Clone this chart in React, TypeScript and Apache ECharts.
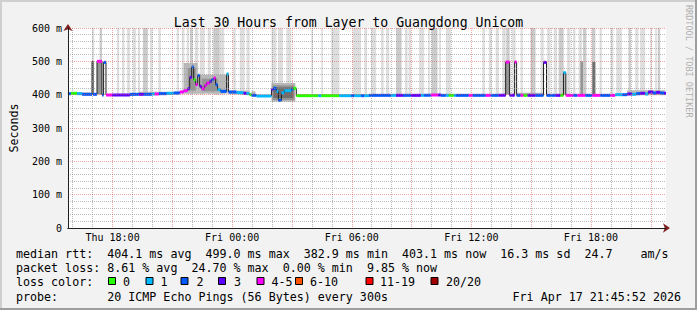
import React, { useEffect, useRef } from 'react';
import * as echarts from 'echarts';

// Time axis in hours counted from Thu 00:00 (Thu 15:45:52 -> Fri 21:45:52)
const START_H = 15 + 45 / 60 + 52 / 3600;
const END_H = START_H + 30;

const majorHours = [18, 21, 24, 27, 30, 33, 36, 39, 42, 45];
const labelHours = [18, 24, 30, 36, 42];
const minorHours = [16, 17, 19, 20, 22, 23, 25, 26, 28, 29, 31, 32, 34, 35, 37, 38, 40, 41, 43, 44];

// Median RTT (ms) per segment start time, and loss-colour bucket (-1 = none)
const medTime = [
  15.76, 15.91, 16.22, 16.47, 16.97, 17.02, 17.22, 17.47, 17.55, 17.67,
  17.97, 18.87, 19.32, 19.57, 19.97, 20.12, 20.32, 20.72, 21.07, 21.37,
  21.57, 21.77, 21.87, 21.97, 22.07, 22.17, 22.27, 22.37, 22.47, 22.62,
  22.72, 22.87, 22.97, 23.07, 23.17, 23.27, 23.42, 23.72, 23.82, 24.22,
  24.57, 24.72, 24.87, 24.97, 25.22, 25.97, 26.07, 26.22, 26.32, 26.47,
  26.62, 26.97, 27.07, 27.22, 28.32, 28.47, 29.37, 29.97, 30.12, 30.47,
  30.62, 30.87, 31.97, 32.22, 32.57, 32.97, 33.47, 33.62, 33.97, 34.32,
  34.47, 34.72, 34.87, 35.12, 35.22, 35.87, 36.07, 36.72, 36.97, 37.37,
  37.72, 37.92, 38.17, 38.27, 38.47, 38.62, 38.82, 39.22, 39.62, 39.77,
  40.22, 40.47, 40.62, 40.74, 41.12, 41.32, 41.72, 42.07, 42.47, 42.97,
  43.22, 43.57, 43.82, 44.07, 44.27, 44.47, 44.72, 44.87, 45.12, 45.27,
  45.47, 45.67,
];
const medValue = [
  403, 404, 403, 401, 500, 401, 500, 399, 497, 399,
  399, 401, 401, 401, 402, 402, 403, 404, 405, 408,
  412, 418, 452, 483, 445, 430, 458, 425, 418, 428,
  435, 440, 445, 450, 430, 415, 410, 462, 408, 406,
  404, 403, 400, 398, 396, 415, 419, 410, 383, 405,
  412, 416, 419, 397, 397, 397, 397, 397, 397, 397,
  397, 398, 398, 398, 398, 398, 398, 398, 399, 399,
  398, 398, 398, 398, 398, 398, 398, 398, 398, 398,
  498, 398, 498, 398, 398, 398, 398, 398, 497, 398,
  398, 398, 466, 398, 398, 398, 398, 398, 398, 398,
  400, 400, 402, 401, 403, 404, 402, 408, 405, 407,
  405, 404,
];
const medLoss = [
  2, 0, 1, 2, -1, 2, 4, 2, 2, 4,
  3, 2, 3, 2, 1, 4, 2, 1, 2, 4,
  4, 3, 3, 2, 0, 4, 2, 3, 4, 4,
  4, 3, 2, 4, 2, 1, 2, 1, 2, 1,
  3, 1, 0, 2, 1, 3, 2, 1, 2, 1,
  1, 2, 0, 0, 1, 0, 1, 2, 1, 2,
  1, 2, 1, 3, 2, 3, 1, 2, 4, 3,
  2, 1, 0, 1, 2, 4, 2, 4, 2, 3,
  4, 3, 4, 2, 4, 0, 3, 2, 3, 2,
  3, 0, 1, 4, 2, 4, 2, 4, 2, 4,
  1, 2, 3, 1, 2, 3, 1, 3, 2, 3,
  2, 3,
];

// Smoke reaching above the chart top: [start h, end h, density]
const tallSmoke = [
  [16.97, 17.08, 1], [17.35, 17.47, 2], [18.22, 18.33, 1], [18.47, 18.6, 1], [18.72, 18.88, 1],
  [19.02, 19.17, 1], [19.27, 19.38, 1], [19.52, 19.77, 2], [19.88, 20.0, 1], [20.3, 20.42, 1],
  [21.22, 21.33, 1], [21.47, 21.6, 1], [21.72, 21.83, 1], [21.88, 22.02, 2], [22.13, 22.3, 1],
  [22.38, 22.63, 1], [22.77, 22.93, 1], [23.05, 23.38, 2], [23.38, 23.6, 1], [24.05, 24.18, 1],
  [24.38, 24.63, 1], [24.72, 24.88, 1], [25.97, 26.22, 1], [26.3, 26.55, 1], [26.72, 26.97, 1],
  [27.97, 28.05, 1], [28.47, 28.55, 1], [28.97, 29.38, 1], [30.05, 30.47, 1], [30.63, 30.77, 1],
  [30.97, 31.22, 1], [31.47, 31.6, 1], [31.72, 31.88, 1], [32.22, 32.5, 2], [32.67, 32.8, 1],
  [32.85, 32.97, 1], [33.38, 33.63, 1], [33.83, 33.92, 1], [34.0, 34.3, 2], [34.38, 34.47, 1],
  [34.72, 34.97, 1], [36.55, 36.68, 1], [36.88, 37.02, 1], [37.22, 37.38, 1], [37.55, 37.72, 1],
  [37.75, 37.92, 2], [38.05, 38.22, 1], [38.47, 38.58, 1], [38.97, 39.22, 2], [39.47, 39.63, 1],
  [39.8, 39.97, 1], [40.13, 40.3, 1], [40.38, 40.63, 2], [40.8, 40.97, 1], [41.1, 41.22, 1],
  [41.38, 41.55, 1], [41.6, 41.77, 2], [42.05, 42.22, 2], [42.43, 42.55, 1], [42.97, 43.13, 1],
  [43.27, 43.55, 1], [43.88, 44.0, 2], [44.22, 44.38, 1], [44.47, 44.72, 1], [44.97, 45.05, 1],
  [45.22, 45.3, 1], [45.35, 45.47, 2],
];
const TALL_SMOKE_LOW = 400;
const TALL_SMOKE_HIGH = 600;

// Local smoke around the median: [start h, end h, low ms, high ms, density]
const localSmoke = [
  [16.0, 16.9, 401, 407, 3], [17.22, 17.47, 401, 499, 4], [19.3, 21.4, 401, 409, 3],
  [21.57, 22.27, 403, 495, 3], [21.77, 22.17, 412, 480, 4], [22.27, 23.72, 403, 460, 3],
  [22.47, 23.27, 410, 448, 4], [23.72, 23.82, 404, 462, 3], [23.82, 24.87, 401, 412, 3],
  [24.97, 25.17, 399, 410, 3], [25.97, 27.17, 379, 435, 3], [26.02, 27.12, 384, 428, 4],
  [26.07, 27.07, 390, 422, 5], [37.72, 37.92, 401, 498, 4], [38.3, 39.6, 399, 406, 3],
  [40.62, 40.74, 400, 466, 3], [41.47, 41.6, 401, 500, 4], [42.07, 42.22, 401, 498, 5],
  [43.82, 45.72, 398, 413, 3],
];

const lossLabels = ['0', '1', '2', '3', '4-5', '6-10', '11-19', '20/20'];
const lossColors = ['#26ff00', '#00b8ff', '#0059ff', '#5e00ff', '#ff00ff', '#ff5500', '#ff0000', '#a00000'];

const statsRtt = 'median rtt:  404.1 ms avg  499.0 ms max  382.9 ms min  403.1 ms now  16.3 ms sd  24.7    am/s';
const statsLoss = 'packet loss: 8.61 % avg  24.70 % max  0.00 % min  9.85 % now';
const probeText = 'probe:       20 ICMP Echo Pings (56 Bytes) every 300s';
const dateText = 'Fri Apr 17 21:45:52 2026';

const FONT = '"DejaVu Sans Mono", monospace';
const smokeGrey = ['#ffffff', '#dedede', '#cbcbcb', '#b8b8b8', '#959595', '#6e6e6e'];
const MAJOR = 'rgba(222,79,79,0.5)';
const MINOR = 'rgba(143,143,143,0.6)';

const fmtHour = (v: number) => {
  const d = v >= 24 ? 'Fri' : 'Thu';
  const hh = Math.round(v % 24);
  return `${d} ${String(hh).padStart(2, '0')}:00`;
};

function rectItem(api: any, t0: number, t1: number, lo: number, hi: number, fill: string) {
  const p0 = api.coord([t0, hi]);
  const p1 = api.coord([t1, lo]);
  return {
    type: 'rect',
    shape: { x: p0[0], y: p0[1], width: Math.max(1, p1[0] - p0[0]), height: p1[1] - p0[1] },
    style: { fill },
  };
}

function buildOption() {
  const medSegs = medTime.map((t, i) => [t, i + 1 < medTime.length ? medTime[i + 1] : END_H, medValue[i], medLoss[i]]);
  const medLine = medTime.map((t, i) => [t, medValue[i]]);
  medLine.push([END_H, medValue[medValue.length - 1]]);
  const tallData = tallSmoke.map((b) => [b[0], b[1], TALL_SMOKE_LOW, TALL_SMOKE_HIGH, b[2]]);

  const legendY = [253.5, 268.3, 281.7, 296.5];
  const boxX = [108, 145.5, 180.5, 218, 256.5, 295, 365.5, 430.5];
  const boxLabelX = [123, 160.5, 196.5, 234, 271.5, 310, 380, 446];
  const graphics: any[] = [
    { type: 'rect', shape: { x: 0, y: 0, width: 697, height: 2 }, style: { fill: '#cfcfcf' } },
    { type: 'rect', shape: { x: 0, y: 0, width: 2, height: 310 }, style: { fill: '#cfcfcf' } },
    { type: 'rect', shape: { x: 0, y: 308, width: 697, height: 2 }, style: { fill: '#9e9e9e' } },
    { type: 'rect', shape: { x: 695, y: 0, width: 2, height: 310 }, style: { fill: '#9e9e9e' } },
    {
      type: 'text', x: 689, y: 5, rotation: -Math.PI / 2,
      style: { text: 'RRDTOOL / TOBI OETIKER', font: `8.5px ${FONT}`, fill: '#b0b0b0', textAlign: 'left', textVerticalAlign: 'middle' },
    },
    { type: 'text', x: 16, y: legendY[0], style: { text: statsRtt, font: `11.67px ${FONT}`, fill: '#000', textVerticalAlign: 'middle' } },
    { type: 'text', x: 16, y: legendY[1], style: { text: statsLoss, font: `11.67px ${FONT}`, fill: '#000', textVerticalAlign: 'middle' } },
    { type: 'text', x: 16, y: legendY[2], style: { text: 'loss color:', font: `11.67px ${FONT}`, fill: '#000', textVerticalAlign: 'middle' } },
    { type: 'text', x: 16, y: legendY[3], style: { text: probeText, font: `11.67px ${FONT}`, fill: '#000', textVerticalAlign: 'middle' } },
    { type: 'text', x: 681, y: legendY[3], style: { text: dateText, font: `11.67px ${FONT}`, fill: '#000', textAlign: 'right', textVerticalAlign: 'middle' } },
  ];
  lossLabels.forEach((lab, i) => {
    graphics.push({
      type: 'rect', shape: { x: boxX[i] + 0.5, y: 277.5, width: 7, height: 7 },
      style: { fill: lossColors[i], stroke: '#000', lineWidth: 1 },
    });
    graphics.push({
      type: 'text', x: boxLabelX[i], y: legendY[2],
      style: { text: lab, font: `11.67px ${FONT}`, fill: '#000', textVerticalAlign: 'middle' },
    });
  });

  return {
    animation: false,
    backgroundColor: '#f2f2f2',
    title: {
      text: 'Last 30 Hours from Layer to Guangdong Unicom',
      left: 'center', top: 11,
      textStyle: { fontFamily: FONT, fontSize: 13.2, fontWeight: 'normal', color: '#000' },
    },
    grid: { left: 66, top: 28, width: 600, height: 200, show: true, backgroundColor: '#ffffff', borderWidth: 0 },
    xAxis: [
      {
        type: 'value', position: 'bottom', min: START_H, max: END_H, z: 12,
        axisLine: { show: true, onZero: false, lineStyle: { color: '#1f1f1f', width: 1 } },
        axisTick: { show: false, customValues: majorHours },
        axisLabel: { customValues: labelHours, formatter: fmtHour, fontFamily: FONT, fontSize: 10, color: '#000', margin: 4 },
        splitLine: { show: true, lineStyle: { color: MAJOR, type: [1, 1], width: 1 } },
      },
      {
        type: 'value', position: 'bottom', min: START_H, max: END_H, z: 11,
        axisLine: { show: true, onZero: false, symbol: ['none', 'arrow'], symbolSize: [7, 7], symbolOffset: [0, 4], lineStyle: { color: '#801f1f' } },
        axisTick: { show: false, customValues: minorHours },
        axisLabel: { show: false },
        splitLine: { show: true, lineStyle: { color: MINOR, type: [1, 1], width: 1 } },
      },
    ],
    yAxis: [
      {
        type: 'value', position: 'left', min: 0, max: 600, interval: 100, z: 12,
        name: 'Seconds', nameLocation: 'middle', nameRotate: 90, nameGap: 48,
        nameTextStyle: { fontFamily: FONT, fontSize: 11.67, color: '#000' },
        axisLine: { show: true, onZero: false, lineStyle: { color: '#1f1f1f', width: 1 } },
        axisTick: { show: false },
        axisLabel: { formatter: (v: number) => (v === 0 ? '0' : `${v} m`), fontFamily: FONT, fontSize: 10, color: '#000', margin: 6 },
        splitLine: { show: true, lineStyle: { color: MAJOR, type: [1, 1], width: 1 } },
        minorTick: { show: false, splitNumber: 5 },
        minorSplitLine: { show: true, lineStyle: { color: MINOR, type: [1, 1], width: 1 } },
      },
      {
        type: 'value', position: 'left', min: 0, max: 600, z: 11,
        axisLine: { show: true, onZero: false, symbol: ['none', 'arrow'], symbolSize: [7, 7], symbolOffset: [0, 4], lineStyle: { color: '#801f1f' } },
        axisTick: { show: false }, axisLabel: { show: false }, splitLine: { show: false },
      },
    ],
    graphic: graphics,
    series: [
      {
        type: 'custom', name: 'smoke-high', xAxisIndex: 0, yAxisIndex: 0, silent: true, clip: true, z: 1,
        encode: { x: [0, 1], y: [2, 3] },
        data: tallData,
        renderItem: (_p: any, api: any) => rectItem(api, api.value(0), api.value(1), api.value(2), api.value(3), smokeGrey[api.value(4)]),
      },
      {
        type: 'custom', name: 'smoke', xAxisIndex: 0, yAxisIndex: 0, silent: true, clip: true, z: 2,
        encode: { x: [0, 1], y: [2, 3] },
        data: localSmoke,
        renderItem: (_p: any, api: any) => rectItem(api, api.value(0), api.value(1), api.value(2), api.value(3), smokeGrey[api.value(4)]),
      },
      {
        type: 'line', name: 'median', xAxisIndex: 0, yAxisIndex: 0, step: 'end', showSymbol: false, silent: true, z: 3,
        data: medLine, lineStyle: { color: '#202020', width: 1 },
      },
      {
        type: 'custom', name: 'loss', xAxisIndex: 0, yAxisIndex: 0, silent: true, clip: true, z: 4,
        encode: { x: [0, 1], y: 2 },
        data: medSegs,
        renderItem: (_p: any, api: any) => {
          const loss = api.value(3);
          if (loss < 0) return null;
          const p0 = api.coord([api.value(0), api.value(2)]);
          const p1 = api.coord([api.value(1), api.value(2)]);
          return {
            type: 'rect',
            shape: { x: p0[0], y: p0[1] - 1.5, width: Math.max(1, p1[0] - p0[0]), height: 3 },
            style: { fill: lossColors[loss] },
          };
        },
      },
    ],
  };
}

export default function App() {
  const ref = useRef<HTMLDivElement>(null);
  useEffect(() => {
    if (!ref.current) return;
    const chart = echarts.init(ref.current, null, { renderer: 'svg' });
    chart.setOption(buildOption() as any);
    return () => chart.dispose();
  }, []);
  return <div ref={ref} style={{ position: 'absolute', left: 0, top: 0, width: 697, height: 310 }} />;
}
